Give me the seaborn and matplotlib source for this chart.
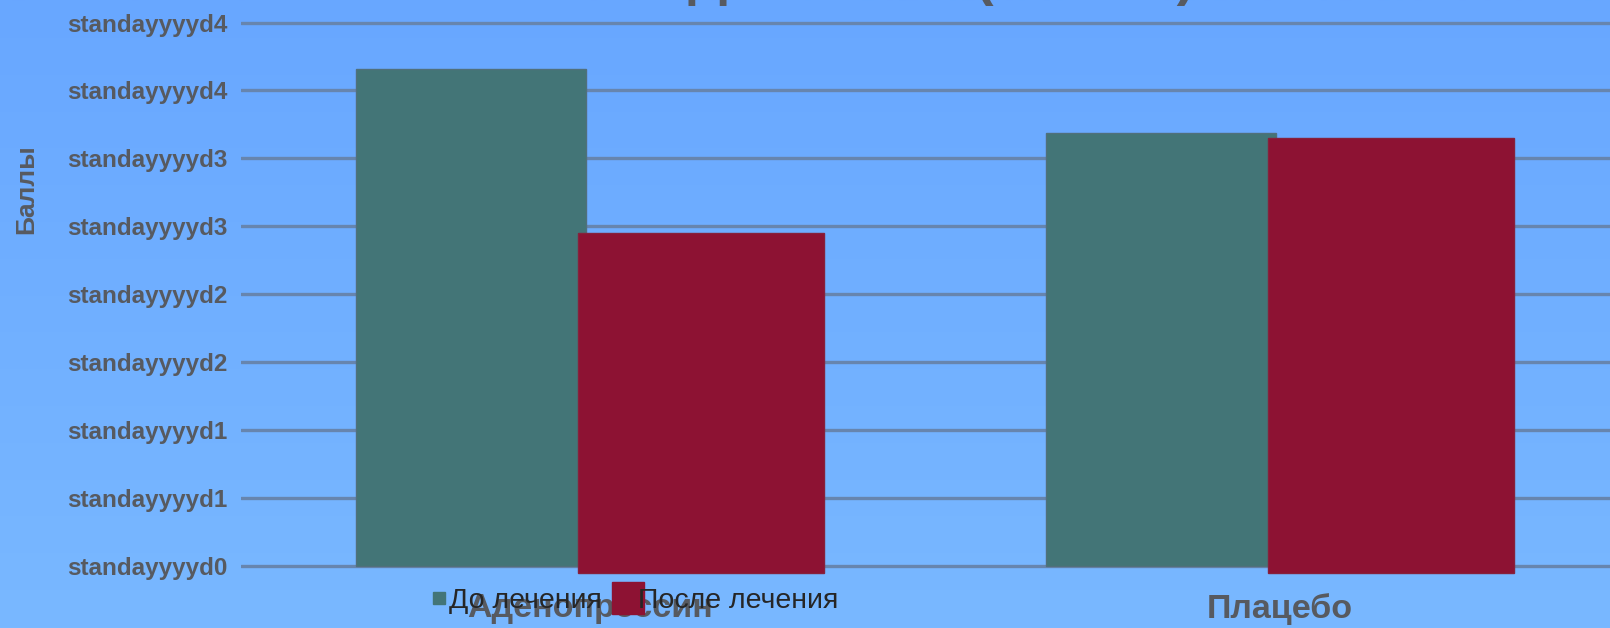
import numpy as np
import pandas as pd
import seaborn as sns
import matplotlib.pyplot as plt
from matplotlib.colors import LinearSegmentedColormap
from matplotlib.lines import Line2D

# --- data ---
categories = ["Аденопрессин", "Плацебо"]
series = ["До лечения", "После лечения"]
before_values = [3.66, 3.19]
after_values = [2.5, 3.2]
ytick_values = [0, 0.5, 1, 1.5, 2, 2.5, 3, 3.5, 4]
ytick_labels = ["standayyyyd0", "standayyyyd1", "standayyyyd1", "standayyyyd2",
                "standayyyyd2", "standayyyyd3", "standayyyyd3", "standayyyyd4",
                "standayyyyd4"]
title_text = "Динамика (баллы)"
y_label = "Баллы"

colors = ["#437577", "#8d1233"]
text_gray = "#575a60"
family = ["Liberation Sans", "DejaVu Sans"]

df = pd.DataFrame({
    "group": categories * 2,
    "period": [series[0]] * len(categories) + [series[1]] * len(categories),
    "score": before_values + after_values,
})

sns.set_theme(style="white")
plt.rcParams["font.family"] = family

W, H, DPI = 1610, 628, 100
fig = plt.figure(figsize=(W / DPI, H / DPI), dpi=DPI)

# soft vertical gradient backdrop
bg = fig.add_axes([0, 0, 1, 1], zorder=-10)
cmap = LinearSegmentedColormap.from_list("bg", ["#68a7ff", "#79b8ff"])
bg.imshow(np.linspace(0, 1, 256).reshape(-1, 1), aspect="auto", cmap=cmap,
          extent=[0, 1, 0, 1], origin="upper")
bg.axis("off")

ymin, ymax = -0.08, 4.05
ppu = 135.8
ax_left = 241 / W
ax_bottom = (H - (565.8 + (-ymin) * ppu)) / H
ax_height = ((ymax - ymin) * ppu) / H
ax = fig.add_axes([ax_left, ax_bottom, 1 - ax_left, ax_height])
ax.patch.set_alpha(0)

sns.barplot(data=df, x="group", y="score", hue="period", order=categories,
            hue_order=series, palette=colors, width=0.678, saturation=1,
            edgecolor="#51707c", linewidth=1.0, legend=False, ax=ax)

# the second series sits slightly wider, overlapping and a touch lower
n = len(categories)
drop = 0.053
for i, bar in enumerate(ax.patches[:2 * n]):
    if i < n:
        bar.set_width(bar.get_width() - 0.006)
    else:
        bar.set_x(bar.get_x() - 0.017)
        bar.set_width(bar.get_width() + 0.017)
        bar.set_y(bar.get_y() - drop)
        bar.set_edgecolor("#86213c")

ax.set_xlim(-0.506, 1.478)
ax.set_ylim(ymin, ymax)
ax.set_yticks(ytick_values)
ax.set_yticklabels(ytick_labels, fontsize=17.5, fontweight="bold", color=text_gray)
ax.set_xticks(range(n))
ax.set_xticklabels(categories, fontsize=24.5, fontweight="bold", color=text_gray)
ax.tick_params(axis="y", length=0, pad=10)
ax.tick_params(axis="x", length=0, pad=12)
ax.set_xlabel("")
ax.set_ylabel("")
ax.set_axisbelow(True)
ax.yaxis.grid(True, color="#6785ae", linewidth=2.4)
ax.xaxis.grid(False)
for s in ax.spines.values():
    s.set_visible(False)

fig.text(26 / W, 1 - 189 / H, y_label, rotation=90, ha="center", va="center",
         fontsize=19, fontweight="bold", color=text_gray)

fig.text(0.585, 1.010, title_text, ha="center", va="baseline",
         fontsize=40, fontweight="bold", color=text_gray)

handles = [
    Line2D([], [], linestyle="none", marker="s", markersize=9,
           markerfacecolor=colors[0], markeredgecolor=colors[0]),
    Line2D([], [], linestyle="none", marker="s", markersize=23,
           markerfacecolor=colors[1], markeredgecolor=colors[1]),
]
fig.legend(handles, series, loc="center", bbox_to_anchor=(0.394, 1 - 601 / H),
           ncol=2, frameon=False, handlelength=0.6, handletextpad=0.05,
           columnspacing=0.6, prop={"family": family, "size": 20.5})

fig.savefig("out.png", dpi=DPI)
